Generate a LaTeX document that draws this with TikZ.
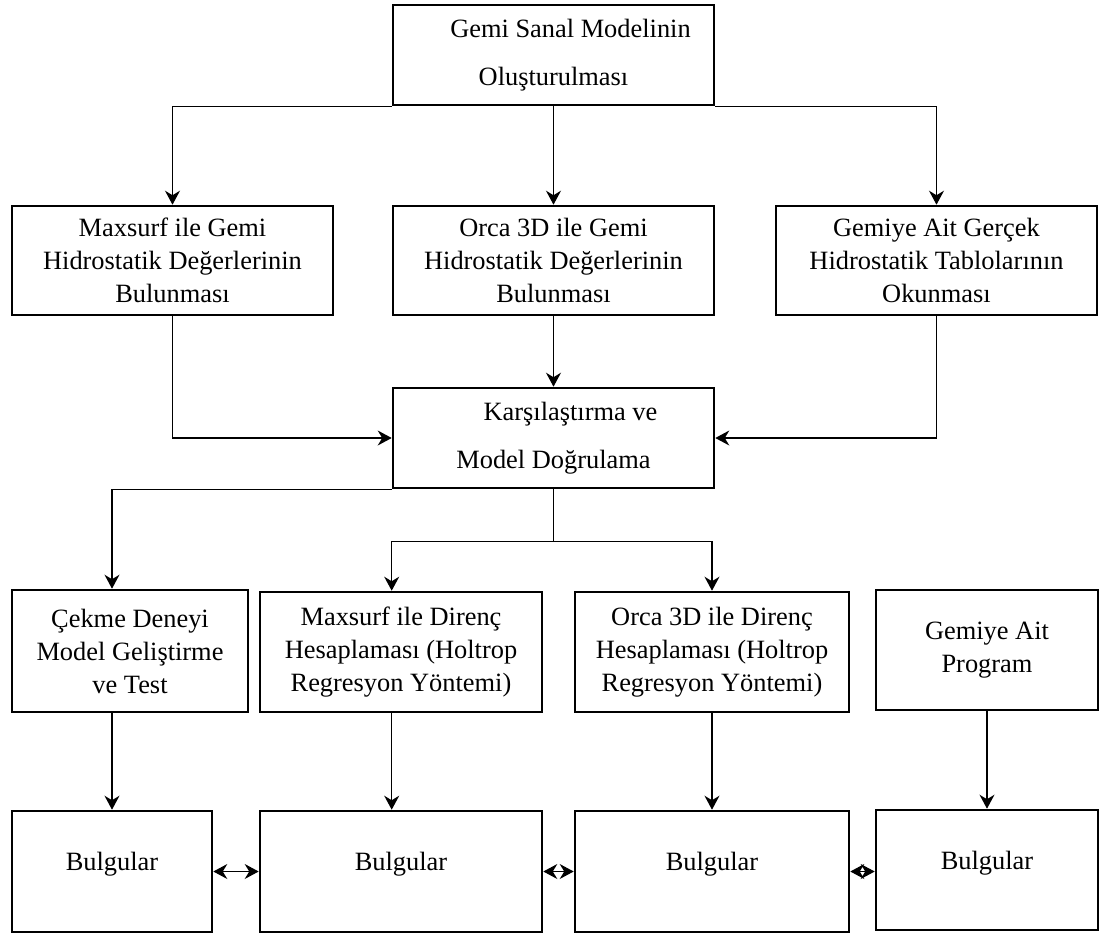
\documentclass[tikz,border=0pt]{standalone}
\usepackage{fontspec}
\setmainfont{Liberation Serif}
\usetikzlibrary{arrows.meta}

\begin{document}
\begin{tikzpicture}[x=0.5pt,y=-0.5pt,
    box/.style={draw, line width=1.3pt, inner sep=0pt, align=center,
        font=\fontsize{13.2}{16.5}\selectfont},
    widebox/.style={box, font=\fontsize{13.2}{24}\selectfont},
    result/.style={box, text depth=10pt},
    conn/.style={line width=0.7pt, -{Stealth[length=7pt,width=7.5pt]}},
    both/.style={line width=0.7pt,
        {Stealth[length=7pt,width=7.5pt]}-{Stealth[length=7pt,width=7.5pt]}}]
    \useasboundingbox (0,0) rectangle (1100,933);

    % Model kurulumu
    \node[widebox, minimum width=160.5pt, minimum height=50pt]
        (model) at (553.5,55) {\hspace*{17pt}Gemi Sanal Modelinin\\Oluşturulması};

    % Hidrostatik degerler
    \node[box, minimum width=160.5pt, minimum height=54.5pt]
        (mhyd) at (172.5,260.5) {Maxsurf ile Gemi\\Hidrostatik Değerlerinin\\Bulunması};
    \node[box, minimum width=160.5pt, minimum height=54.5pt]
        (ohyd) at (553.5,260.5) {Orca 3D ile Gemi\\Hidrostatik Değerlerinin\\Bulunması};
    \node[box, minimum width=160.5pt, minimum height=54.5pt]
        (ghyd) at (936.5,260.5) {Gemiye Ait Gerçek\\Hidrostatik Tablolarının\\Okunması};

    \node[widebox, minimum width=160.5pt, minimum height=50pt]
        (cmp) at (553.5,438) {\hspace*{17pt}Karşılaştırma ve\\Model Doğrulama};

    % Direnc hesaplari
    \node[box, minimum width=118pt, minimum height=61pt]
        (cekme) at (130,651) {Çekme Deneyi\\Model Geliştirme\\ve Test};
    \node[box, minimum width=141pt, minimum height=60pt]
        (mdir) at (401,652) {Maxsurf ile Direnç\\Hesaplaması (Holtrop\\Regresyon Yöntemi)};
    \node[box, minimum width=137pt, minimum height=60pt]
        (odir) at (712,652) {Orca 3D ile Direnç\\Hesaplaması (Holtrop\\Regresyon Yöntemi)};
    \node[box, minimum width=111pt, minimum height=60pt]
        (gprog) at (987,650) {Gemiye Ait\\Program};

    % Bulgular
    \node[result, minimum width=100pt, minimum height=60.5pt] (bul1) at (112,871.5) {Bulgular};
    \node[result, minimum width=141pt, minimum height=60.5pt] (bul2) at (401,871.5) {Bulgular};
    \node[result, minimum width=137pt, minimum height=60.5pt] (bul3) at (712,871.5) {Bulgular};
    \node[result, minimum width=111pt, minimum height=60pt] (bul4) at (987,870) {Bulgular};

    % Baglantilar
    \draw[conn] (model.south west) -| (mhyd.north);
    \draw[conn] (model.south) -- (ohyd.north);
    \draw[conn] (model.south east) -| (ghyd.north);

    \draw[conn] (mhyd.south) |- (cmp.west);
    \draw[conn] (ohyd.south) -- (cmp.north);
    \draw[conn] (ghyd.south) |- (cmp.east);

    \coordinate (fork) at ([yshift=-26pt]cmp.south);
    \draw[conn] (cmp.south west) -| (bul1.north |- cekme.north);
    \draw[line width=0.7pt] (cmp.south) -- (fork);
    \draw[conn] (fork) -| (cmp.west |- mdir.north);
    \draw[conn] (fork) -| (odir.north);

    \draw[conn] (cekme.south -| bul1.north) -- (bul1.north);
    \draw[conn] (cmp.west |- mdir.south) -- (cmp.west |- bul2.north);
    \draw[conn] (odir.south) -- (bul3.north);
    \draw[conn] (gprog.south) -- (bul4.north);

    \draw[both] (bul1.east) -- (bul2.west);
    \draw[both] (bul2.east) -- (bul3.west);
    \draw[both] (bul3.east) -- (bul3.east -| bul4.west);
\end{tikzpicture}
\end{document}
